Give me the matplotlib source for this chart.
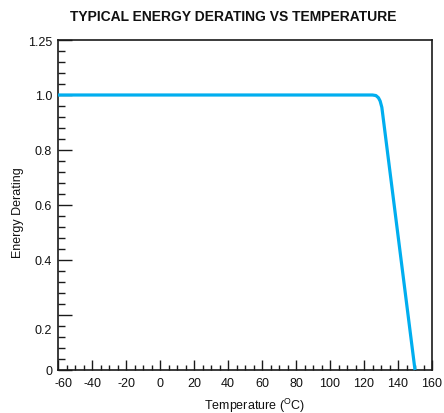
import matplotlib.pyplot as plt
from matplotlib.ticker import MultipleLocator

plt.rcParams['font.family'] = ['Liberation Sans', 'DejaVu Sans']
plt.rcParams['mathtext.fontset'] = 'custom'
plt.rcParams['mathtext.rm'] = 'Liberation Sans'

# data
temps = [-60, 125, 127, 128.5, 129.5, 130.5, 150]
derating = [1.0, 1.0, 0.998, 0.99, 0.978, 0.955, 0.0]

x_ticks = [-60, -40, -20, 0, 20, 40, 60, 80, 100, 120, 140, 160]
y_ticks = [0, 0.2, 0.4, 0.6, 0.8, 1.0, 1.2]
y_tick_labels = ['0', '0.2', '0.4', '0.6', '0.8', '1.0', '1.25']

fig = plt.figure(figsize=(4.44, 4.14), dpi=100)
ax = fig.add_axes([58 / 444, 1 - 371 / 414, 374 / 444, 330 / 414])

ax.plot(temps, derating, color='#00AEEF', lw=2.3, solid_joinstyle='round',
        solid_capstyle='butt', clip_on=False, zorder=3)

ax.set_xlim(-60, 160)
ax.set_ylim(0, 1.2)

ax.set_xticks(x_ticks)
ax.set_xticklabels([''] + [str(t) for t in x_ticks[1:]])
ax.xaxis.set_minor_locator(MultipleLocator(5))
ax.set_yticks(y_ticks)
ax.set_yticklabels([lbl if lbl != '0.2' else '' for lbl in y_tick_labels])
ax.yaxis.set_minor_locator(MultipleLocator(0.04))

ax.tick_params(axis='both', which='both', direction='in', color='#1a1a1a',
               labelsize=9, labelcolor='#111111', width=1.0)
ax.tick_params(axis='x', which='major', length=7.2, pad=5)
ax.tick_params(axis='x', which='minor', length=3.6)
ax.tick_params(axis='y', which='major', length=10, pad=4.3)
ax.tick_params(axis='y', which='minor', length=5)

# the two labels that sit off their ticks in the original
ax.annotate('-60', xy=(-60, 0), xycoords=('data', 'axes fraction'),
            xytext=(4.3, -5), textcoords='offset points',
            ha='center', va='top', fontsize=9, color='#111111')
ax.annotate('0.2', xy=(0, 0.2), xycoords=('axes fraction', 'data'),
            xytext=(-4.3, -9.4), textcoords='offset points',
            ha='right', va='center_baseline', fontsize=9, color='#111111')

for side in ['left', 'right', 'top', 'bottom']:
    ax.spines[side].set_linewidth(1.2)
    ax.spines[side].set_color('#1a1a1a')

ax.set_xlabel('Temperature ($^{\\rm O}$C)', fontsize=9, color='#111111')
ax.xaxis.set_label_coords((254 - 58) / 374, -26 / 330)
ax.set_ylabel('Energy Derating', fontsize=9, color='#111111')
ax.yaxis.set_label_coords((24 - 58) / 374, (371 - 213) / 330)

fig.text(233.5 / 444, 1 - 17 / 414, 'TYPICAL ENERGY DERATING VS TEMPERATURE',
         ha='center', va='center', fontsize=10, fontweight='bold',
         color='#111111')

fig.savefig('out.png', dpi=100)
